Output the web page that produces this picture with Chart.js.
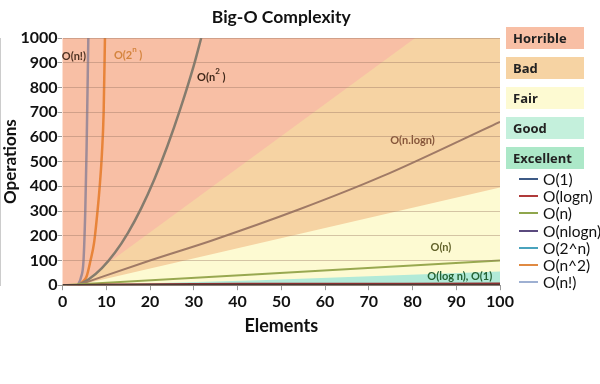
<!DOCTYPE html>
<html>
<head>
<meta charset="utf-8">
<script src="https://cdn.jsdelivr.net/npm/chart.js@4"></script>
<style>
  html, body { margin: 0; padding: 0; background: #fff; }
  #wrap { position: relative; width: 600px; height: 384px; }
  #cats { position: absolute; left: 506px; top: 27px; }
  .cat { width: 78px; height: 22px; margin-bottom: 8px; font: bold 13px "Open Sans", sans-serif;
         color: #222; line-height: 22px; padding-left: 7px; box-sizing: border-box; }
  #lines { position: absolute; left: 519px; top: 170px; }
  .item { height: 17.3px; font: 15.5px Lato, sans-serif; color: #111; display: flex; align-items: center; white-space: nowrap; }
  .item i { display: inline-block; width: 19px; height: 2px; margin-right: 5px; }
</style>
</head>
<body>
<div id="wrap">
  <canvas id="chart"></canvas>
  <div id="cats"></div>
  <div id="lines"></div>
</div>
<script>
// --- data ---
const oConst   = [[0, 1], [100, 1]];
const oLog     = [[1, 0], [10, 3.3], [50, 5.6], [100, 6.6]];
const oLinear  = [[0, 0], [100, 100]];
const oNlogN   = [[3.5, 0], [20, 100], [34, 180], [54, 306], [73, 440], [100, 661]];
const oSquare  = [[3.5, 0], [6, 24], [9, 69], [12, 132], [15, 213], [18, 312], [21, 429], [24, 564], [27, 717], [30, 888], [31.7, 1000]];
const oExp     = [[3.5, 0], [4.5, 12], [5.5, 35], [6.4, 100], [7.2, 170], [8, 300], [8.5, 400], [9, 530], [9.4, 700], [9.7, 1000]];
const oFact    = [[3.5, 0], [4.2, 30], [4.8, 100], [5.2, 300], [5.5, 550], [5.9, 1000]];

// zone borders
const badEdge  = [[3.5, 0], [80.6, 1000], [100, 1000]];
const fairEdge = [[3.5, 0], [100, 395]];
const goodEdge = [[3.5, 0], [45, 20], [100, 55]];

const categoryLabels = ["Horrible", "Bad", "Fair", "Good", "Excellent"];
const categoryColors = ["#f8bfa5", "#f6d3a3", "#fdfad2", "#c4f0dc", "#ace8c8"];

const legendLabels = ["O(1)", "O(logn)", "O(n)", "O(nlogn)", "O(2^n)", "O(n^2)", "O(n!)"];
const legendColors = ["#3d5a86", "#b03a3a", "#8fa64c", "#5a4a7e", "#4aa3bd", "#e08a42", "#9eb0d2"];

// in-plot notes: [text, superscript, tail, x, y, color]
const notes = [
  ["O(n!)", "", "", 2.6, 927, "#4e3222"],
  ["O(2", "n", " )", 15, 931, "#d4843e"],
  ["O(n", "2", " )", 34, 839, "#40281a"],
  ["O(n.logn)", "", "", 80, 585, "#86563a"],
  ["O(n)", "", "", 86.5, 153, "#62622a"],
  ["O(log n), O(1)", "", "", 90.8, 35, "#256234"]
];

const pts = (arr) => arr.map((p) => ({ x: p[0], y: p[1] }));

// --- legends (html) ---
const cats = document.getElementById("cats");
categoryLabels.forEach((t, i) => {
  const d = document.createElement("div");
  d.className = "cat";
  d.style.background = categoryColors[i];
  d.textContent = t;
  cats.appendChild(d);
});
const lines = document.getElementById("lines");
legendLabels.forEach((t, i) => {
  const d = document.createElement("div");
  d.className = "item";
  d.innerHTML = '<i style="background:' + legendColors[i] + '"></i>';
  d.appendChild(document.createTextNode(t));
  lines.appendChild(d);
});

// --- plugins ---
const horribleBg = {
  id: "horribleBg",
  beforeDraw(chart) {
    const a = chart.chartArea, ctx = chart.ctx;
    ctx.save();
    ctx.fillStyle = categoryColors[0];
    ctx.fillRect(a.left, a.top, a.right - a.left, a.bottom - a.top);
    ctx.restore();
  }
};

const noteText = {
  id: "noteText",
  afterDatasetsDraw(chart) {
    const ctx = chart.ctx, xs = chart.scales.x, ys = chart.scales.y;
    ctx.save();
    ctx.textBaseline = "middle";
    notes.forEach((n) => {
      const big = "bold 11px Lato, sans-serif", small = "bold 8px Lato, sans-serif";
      ctx.font = big;
      const w1 = ctx.measureText(n[0]).width, w3 = ctx.measureText(n[2]).width;
      ctx.font = small;
      const w2 = ctx.measureText(n[1]).width;
      let x = xs.getPixelForValue(n[3]) - (w1 + w2 + w3) / 2;
      const y = ys.getPixelForValue(n[4]);
      ctx.fillStyle = n[5];
      ctx.font = big; ctx.fillText(n[0], x, y); x += w1;
      ctx.font = small; ctx.fillText(n[1], x, y - 6); x += w2;
      ctx.font = big; ctx.fillText(n[2], x, y);
    });
    ctx.restore();
  }
};

function zone(data, color, order) {
  return { data: pts(data), backgroundColor: color, borderWidth: 0, pointRadius: 0, fill: "start", order: order };
}
function curve(data, color, width) {
  return { data: pts(data), borderColor: color, borderWidth: width, pointRadius: 0, fill: false,
           cubicInterpolationMode: "monotone", order: 0 };
}

new Chart(document.getElementById("chart"), {
  type: "line",
  data: {
    datasets: [
      curve(oConst, "#4a3a36", 2),
      curve(oLog, "#8c3232", 2),
      curve(oLinear, "#98a850", 2),
      curve(oNlogN, "#a07a66", 2),
      curve(oSquare, "#857c6e", 2.5),
      curve(oExp, "#e8843a", 2.5),
      curve(oFact, "#a08c98", 2.5),
      zone(goodEdge, "#b2ead8", 10),
      zone(fairEdge, categoryColors[2], 11),
      zone(badEdge, categoryColors[1], 12)
    ]
  },
  options: {
    responsive: true,
    maintainAspectRatio: false,
    animation: false,
    layout: { padding: { top: 0, right: 100, bottom: 47, left: 0 } },
    scales: {
      x: {
        type: "linear", min: 0, max: 100,
        border: { color: "#9a9a9a" },
        grid: { drawOnChartArea: false, tickLength: 5, color: "#9a9a9a" },
        ticks: { stepSize: 10, padding: 2, color: "#111", font: { family: "Lato", size: 16, weight: "bold" } },
        title: { display: true, text: "Elements", color: "#111", padding: { top: 2, bottom: 0 },
                 font: { family: "Lato", size: 18, weight: "bold" } }
      },
      y: {
        min: 0, max: 1000,
        border: { color: "#9a9a9a" },
        grid: { z: 1, color: "rgba(150,115,95,0.4)", tickColor: "#9a9a9a", tickLength: 5 },
        ticks: { stepSize: 100, padding: 0, color: "#111", callback: (v) => String(v),
                 font: { family: "Lato", size: 16, weight: "bold" } },
        title: { display: true, text: "Operations", color: "#111", padding: 0,
                 font: { family: "Lato", size: 17, weight: "bold" } }
      }
    },
    plugins: {
      legend: { display: false },
      tooltip: { enabled: false },
      title: {
        display: true, fullSize: false, text: "Big-O Complexity", color: "#111",
        padding: { top: 7, bottom: 10 }, font: { family: "Lato", size: 17.5, weight: "bold" }
      }
    }
  },
  plugins: [horribleBg, noteText]
});
</script>
</body>
</html>
